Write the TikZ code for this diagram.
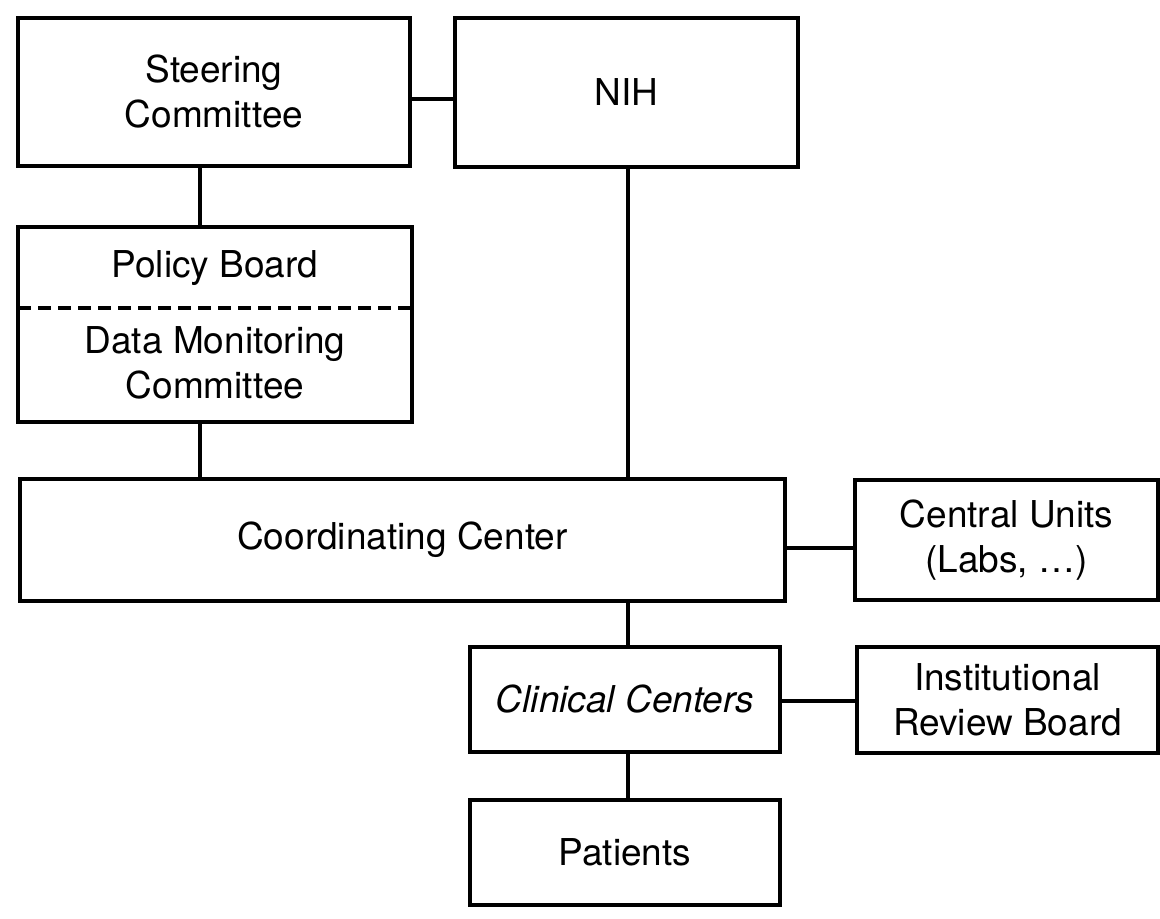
\documentclass[tikz,border=0pt]{standalone}
\usepackage{fontspec}
\setmainfont{TeX Gyre Heros}
\usetikzlibrary{calc}
\begin{document}
\begin{tikzpicture}[x=0.5pt,y=-0.5pt,
  box/.style={draw=black, line width=2pt, fill=white, inner sep=0pt, outer sep=0pt,
    align=center, font=\fontsize{18.5}{22.5}\selectfont},
  label/.style={inner sep=0pt, align=center, font=\fontsize{18.5}{22.5}\selectfont},
  link/.style={draw=black, line width=1.9pt}]
\useasboundingbox[fill=white] (0,0) rectangle (1160,919);

% boxes (positions in pixel units)
\node[box, minimum width=196pt, minimum height=74pt]   (steer)    at (214,92)     {Steering\\Committee};
\node[box, minimum width=171.5pt, minimum height=74.5pt] (nih)    at (626.5,92.5) {NIH};
\node[box, minimum width=197pt, minimum height=97.5pt] (policy)   at (215,324.5)  {};
\node[box, minimum width=382.5pt, minimum height=61pt] (cc)       at (402.5,540)  {Coordinating Center};
\node[box, minimum width=151.5pt, minimum height=60pt] (central)  at (1006.5,540) {Central Units\\(Labs, \dots)};
\node[box, minimum width=155pt, minimum height=52.5pt] (clinical) at (625,699.5)  {\itshape Clinical Centers};
\node[box, minimum width=150.5pt, minimum height=53pt] (irb)      at (1007.5,700) {Institutional\\Review Board};
\node[box, minimum width=155pt, minimum height=52.5pt] (patients) at (625,852.5)  {Patients};

% policy board / data monitoring committee split
\draw[line width=1.7pt, dash pattern=on 6.5pt off 3.5pt]
  ($(policy.west)+(0,-16.5)$) -- ($(policy.east)+(0,-16.5)$);
\node[label] (pb)  at (215,268) {Policy Board};
\node[label] (dmc) at (215,363) {Data Monitoring\\Committee};

% connectors
\draw[link] ($(steer.east)+(0,7)$) -- ($(nih.west)+(0,6.5)$);
\draw[link] ($(steer.south)+(-14,0)$) -- ($(policy.north)+(-15,0)$);
\draw[link] ($(policy.south)+(-15,0)$) -- ($(cc.north)+(-202.5,0)$);
\draw[link] ($(nih.south)+(1.5,0)$) -- ($(cc.north)+(225.5,0)$);
\draw[link] ($(cc.east)+(0,8)$) -- ($(central.west)+(0,8)$);
\draw[link] ($(cc.south)+(225.5,0)$) -- ($(clinical.north)+(3,0)$);
\draw[link] ($(clinical.east)+(0,1.5)$) -- ($(irb.west)+(0,1)$);
\draw[link] ($(clinical.south)+(3,0)$) -- ($(patients.north)+(3,0)$);
\end{tikzpicture}
\end{document}
